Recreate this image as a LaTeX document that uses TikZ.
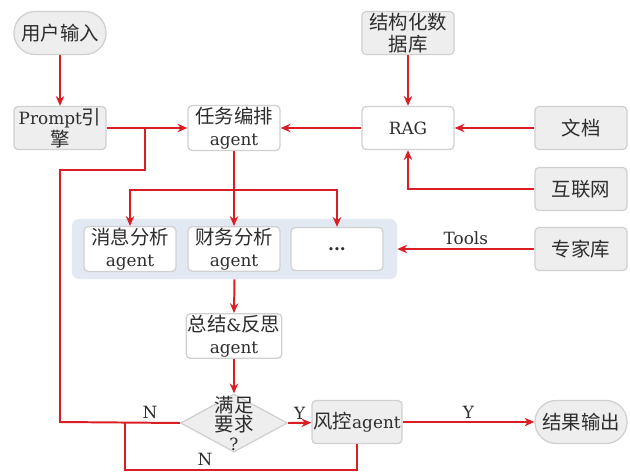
\documentclass[tikz,border=0pt]{standalone}
\usepackage{fontspec}
\setmainfont{DejaVu Serif}
\newfontfamily\cjk[Scale=1.15]{Noto Sans CJK SC}
\usepackage{xcolor}
\usepackage{tikz}
\definecolor{linered}{RGB}{218,30,36}
\definecolor{textgray}{RGB}{45,45,45}
\definecolor{boxline}{RGB}{208,208,208}
\definecolor{boxgray}{RGB}{238,238,238}
\definecolor{groupblue}{RGB}{227,233,243}
\usetikzlibrary{shapes.geometric,arrows.meta}

\begin{document}
\begin{tikzpicture}[x=0.025cm,y=-0.025cm,
    font=\fontsize{12}{15.5}\selectfont,
    box/.style={draw=boxline, line width=0.9pt, rounded corners=3pt, minimum width=2.3cm,
        minimum height=1.075cm, align=center, inner sep=1pt, text=textgray},
    graybox/.style={box, fill=boxgray},
    whitebox/.style={box, fill=white},
    pill/.style={graybox, rounded corners=0.53cm},
    arr/.style={draw=linered, line width=1.4pt, -{Stealth[length=7pt,width=6pt]}},
    link/.style={draw=linered, line width=1.4pt},
    lbl/.style={text=textgray, inner sep=2pt}]
    \useasboundingbox (0,0) rectangle (630,472);

    % Input side
    \node[pill] (user) at (60,33) {\cjk 用户输入};
    \node[graybox] (prompt) at (60,128) {Prompt{\cjk 引}\\{\cjk 擎}};
    \node[whitebox] (task) at (234,128) {{\cjk 任务编排}\\agent};

    % Retrieval side
    \node[graybox] (db) at (408,33) {{\cjk 结构化数}\\{\cjk 据库}};
    \node[whitebox] (rag) at (408,128) {RAG};
    \node[graybox] (doc) at (581,128) {\cjk 文档};
    \node[graybox] (web) at (581,189) {\cjk 互联网};
    \node[graybox] (expert) at (581,249) {\cjk 专家库};

    % Agent group
    \node[fill=groupblue, rounded corners=5pt, minimum width=8.125cm, minimum height=1.5cm] (grp) at (234.5,249) {};
    \node[whitebox] (msg) at (130,249) {{\cjk 消息分析}\\agent};
    \node[whitebox] (fin) at (234,249) {{\cjk 财务分析}\\agent};
    \node[whitebox] (more) at (337,249) {\textbf{...}};

    % Review and output
    \node[whitebox] (sum) at (234,336) {{\cjk 总结}\&{\cjk 反思}\\agent};
    \node[diamond, fill=boxgray, draw=boxline, line width=0.9pt, minimum width=2.675cm,
        minimum height=1.45cm, inner sep=0pt] (judge) at (234,423) {};
    \node[align=center, text=textgray, font=\fontsize{12}{13.5}\selectfont] (judgetxt) at (judge.center)
        {{\cjk 满足}\\{\cjk 要求}\\?};
    \node[graybox, minimum width=2.25cm] (risk) at (357,422) {{\cjk 风控}agent};
    \node[pill] (out) at (581,422) {\cjk 结果输出};

    % Junctions
    \coordinate (bus) at (234,190);
    \coordinate (merge) at (145,128);
    \coordinate (loopA) at (145,170);
    \coordinate (loopB) at (60,170);
    \coordinate (loopC) at (60,422);
    \coordinate (fork) at (125,422);
    \coordinate (bottomL) at (125,470);
    \coordinate (bottomR) at (357,470);

    % Connectors
    \draw[arr] (user) -- (prompt);
    \draw[arr] (prompt) -- (task);
    \draw[arr] (rag) -- (task);
    \draw[arr] (db) -- (rag);
    \draw[arr] (doc) -- (rag);
    \draw[arr] (web.west) -| (rag.south);
    \draw[arr] (expert) -- node[lbl, above] {Tools} (grp.east);

    \draw[arr] (task.south) -- (fin.north);
    \draw[arr] (bus) -| (msg.north);
    \draw[arr] (bus) -| (more.north);

    \draw[arr] (grp.south) -- (sum.north);
    \draw[arr] (sum) -- (judge.north);
    \draw[arr] (judge.east) -- node[lbl, above] {Y} (risk);
    \draw[arr] (risk) -- node[lbl, above] {Y} (out);

    % Feedback loops
    \draw[link] (judge.west) -- node[lbl, above, pos=0.25] {N} (loopC) -- (loopB) -- (loopA) -- (merge);
    \draw[link] (risk.south) -- (bottomR) -- node[lbl, above, pos=0.655] {N} (bottomL) -- (fork);
\end{tikzpicture}
\end{document}
